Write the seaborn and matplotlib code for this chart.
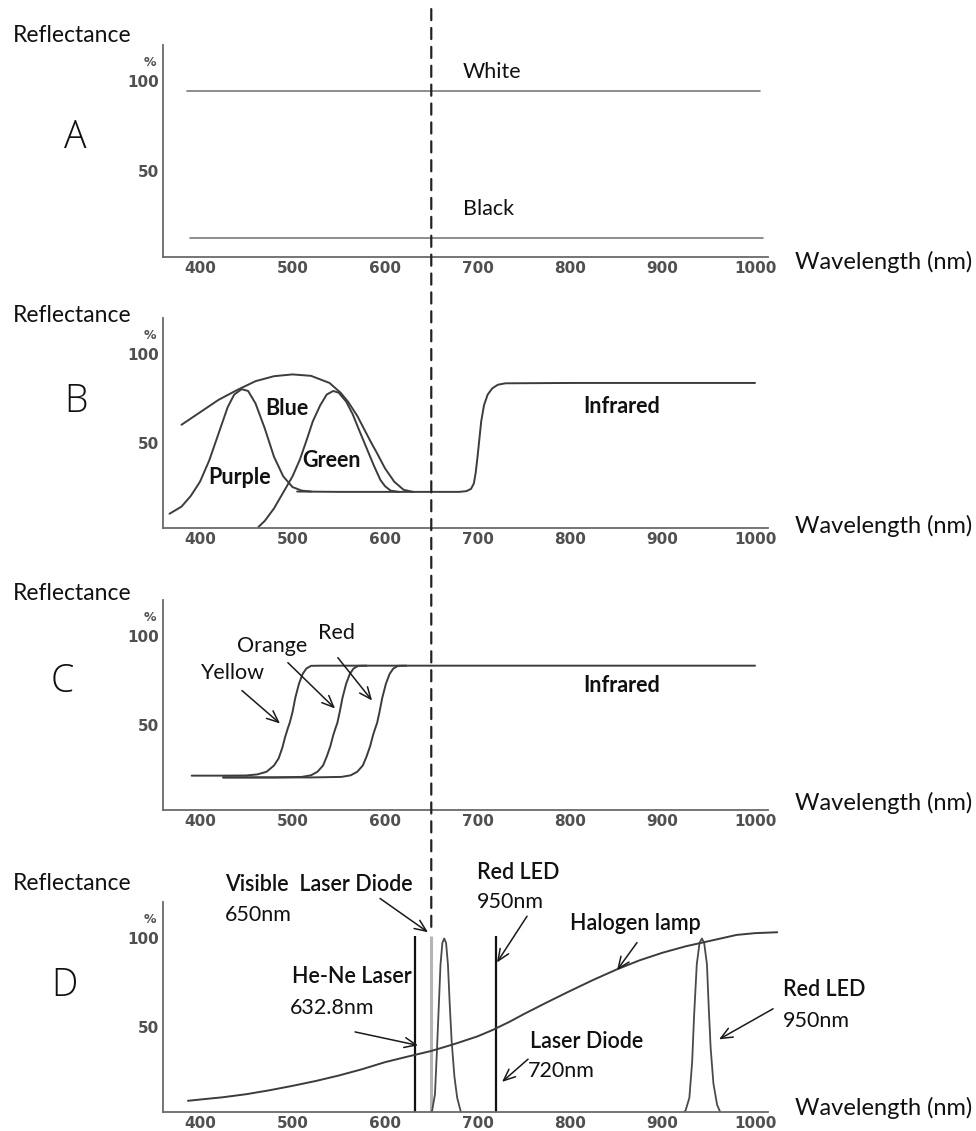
import numpy as np
import pandas as pd
import seaborn as sns
import matplotlib
matplotlib.use("Agg")
import matplotlib.pyplot as plt
from matplotlib.patches import ConnectionPatch

# ---------------- data ----------------
x_ticks = [400, 500, 600, 700, 800, 900, 1000]
y_ticks = [50, 100]

# A: flat white / black reflectance
wl_white = [386, 1005]
r_white = [94.4, 94.4]
wl_black = [389, 1009]
r_black = [12.4, 12.4]

# B: purple, blue, green pigments and common infrared tail
wl_purple = [367, 380, 390, 400, 410, 420, 430, 437, 445, 452, 460, 470, 480, 490, 500, 510, 520]
r_purple = [10, 14, 20, 28, 40, 55, 70, 77, 80, 79, 72, 58, 42, 31, 25, 23, 22.5]

wl_blue = [380, 400, 420, 440, 460, 480, 500, 520, 540, 552, 560, 570, 580, 585, 591, 600, 610, 620, 630]
r_blue = [60, 67, 74, 79.5, 84.5, 87.3, 88.3, 87.5, 83.5, 78, 73, 65, 55, 50, 44.4, 35.5, 28, 23.5, 22.3]

wl_green = [463, 470, 480, 490, 500, 508, 515, 522, 530, 537, 544, 550, 558, 565, 572, 580, 588, 595, 600, 606, 615]
r_green = [2.5, 6, 13, 22, 31, 40.5, 51, 62, 71, 77, 79, 78, 73, 66, 57, 47, 37, 29, 25.5, 23, 22.3]

wl_ir_b = [505, 550, 600, 650, 680, 688, 693, 696, 698, 700, 702, 704, 707, 711, 716, 722, 730, 800, 1000]
r_ir_b = [22.5, 22.3, 22.3, 22.3, 22.3, 22.7, 24, 27, 33, 42, 52, 62, 71, 77, 80.5, 82.5, 83.3, 83.5, 83.5]

# C: yellow / orange / red edges
wl_yellow = [391, 420, 450, 462, 472, 480, 485, 489, 492, 495, 497, 500, 503, 507, 511, 515, 520, 530, 1000]
r_yellow = [21.3, 21.3, 21.4, 22, 23.5, 27, 31, 37, 43, 48, 51, 57, 65, 73, 78.5, 81.5, 83, 83.1, 83.1]

wl_orange = [425, 480, 510, 520, 527, 533, 537, 541, 544, 546.5, 548.5, 551, 554, 558, 562, 566, 571, 580]
r_orange = [20.3, 20.3, 20.6, 21.5, 23.5, 27, 32, 38, 44, 48, 51, 57, 65, 73, 78.5, 81.5, 83, 83.1]

wl_red = [425, 520, 553, 563, 570, 576, 580, 584, 587, 589.5, 591.5, 594, 597, 601, 605, 609, 614, 623]
r_red = [20.3, 20.3, 20.6, 21.5, 23.5, 27, 32, 38, 44, 48, 51, 57, 65, 73, 78.5, 81.5, 83, 83.1]

# D: light sources
wl_halogen = [387, 400, 425, 450, 475, 500, 525, 550, 575, 600, 625, 650, 675, 700, 716, 735, 750,
              775, 800, 825, 850, 875, 900, 925, 950, 980, 1000, 1024]
r_halogen = [8.3, 9, 10.3, 12, 14.2, 16.7, 19.4, 22.5, 26, 30, 33.2, 36.3, 40.2, 44.5, 48, 52.8, 57,
             63.6, 70, 76.2, 82, 87.2, 91.5, 95.1, 98, 101.5, 102.5, 103]

wl_led_a = [648, 651, 654, 656, 658, 660, 662, 664, 666, 668, 670, 672, 675, 678, 682, 685]
r_led_a = [0, 3, 12, 35, 60, 85, 97, 99.5, 97, 85, 62, 42, 22, 10, 2, 0]

wl_led_b = [920, 925, 929, 932, 934, 937, 940, 942.5, 945, 948, 950, 952, 955, 959, 964]
r_led_b = [0, 3, 10, 30, 55, 85, 97, 99.5, 97, 85, 60, 38, 18, 6, 0]

laser_lines = [632.8, 720]
laser_top = 101
visible_ld = 650

# ---------------- style ----------------
sns.set_theme(style="white")
plt.rcParams["font.family"] = ["Lato", "DejaVu Sans"]

W, H = 976, 1131
fig = plt.figure(figsize=(W / 100, H / 100), dpi=100)

AX_LEFT, AX_RIGHT = 163, 768
SPINE = "#6a6a6a"
LINE = "#3c3c3c"
TICK_FONT = ["Liberation Sans Narrow", "DejaVu Sans"]
FS = 15.5


def fx(px):
    return px / W


def fy(py):
    return 1 - py / H


def make_axes(top, bottom):
    ax = fig.add_axes([fx(AX_LEFT), fy(bottom), (AX_RIGHT - AX_LEFT) / W, (bottom - top) / H])
    return ax


def style_axes(ax):
    ax.set_xlim(360, 1014)
    ax.set_ylim(2, 120)
    ax.set_xticks(x_ticks)
    ax.set_yticks(y_ticks)
    ax.set_xlabel("")
    ax.set_ylabel("")
    for s in ("top", "right"):
        ax.spines[s].set_visible(False)
    for s in ("left", "bottom"):
        ax.spines[s].set_color(SPINE)
        ax.spines[s].set_linewidth(1.3)
    ax.tick_params(direction="in", length=4, width=1, color=SPINE,
                   labelcolor="#505050", labelsize=11, pad=3)
    for lab in ax.get_xticklabels() + ax.get_yticklabels():
        lab.set_family(TICK_FONT)
        lab.set_fontweight("bold")
    ax.annotate("%", xy=(0, 100), xycoords=("axes fraction", "data"),
                xytext=(-9.5, 13), textcoords="offset points",
                ha="center", va="center", fontsize=9, color="#505050",
                family=TICK_FONT, fontweight="bold")
    ax.set_facecolor("none")


def draw(ax, wl, r, color=LINE, lw=1.4, **kw):
    df = pd.DataFrame({"wavelength": wl, "reflectance": r})
    sns.lineplot(data=df, x="wavelength", y="reflectance", ax=ax, color=color,
                 lw=lw, sort=False, estimator=None, **kw)
    return ax.lines[-1]


def arrow(ax, start, end):
    ax.annotate("", xy=end, xytext=start,
                arrowprops=dict(arrowstyle="->,head_length=0.7,head_width=0.3",
                                color="#1a1a1a", lw=1.1, shrinkA=0, shrinkB=0))


panel_boxes = {"A": (45, 257), "B": (318, 528), "C": (600, 810), "D": (902, 1112)}
letter_pos = {"A": (75, 138), "B": (76, 402), "C": (62, 682), "D": (64, 986)}
refl_y = {"A": 36, "B": 315, "C": 593, "D": 884}
wave_y = {"A": 262, "B": 526, "C": 803, "D": 1108}

axes = {}
for key, (top, bottom) in panel_boxes.items():
    ax = make_axes(top, bottom)
    axes[key] = ax
    fig.text(fx(13), fy(refl_y[key]), "Reflectance", ha="left", va="center",
             fontsize=16.5, color="#111")
    fig.text(fx(795), fy(wave_y[key]), "Wavelength (nm)", ha="left", va="center",
             fontsize=17, color="#111")
    lx, ly = letter_pos[key]
    fig.text(fx(lx), fy(ly), key, ha="center", va="center", fontsize=27,
             color="#111", family=["Open Sans", "DejaVu Sans"], fontweight="light")

TXT = dict(ha="left", va="center", color="#111")

# ---- A ----
ax = axes["A"]
draw(ax, wl_white, r_white, color="#7a7a7a", lw=1.2)
draw(ax, wl_black, r_black, color="#7a7a7a", lw=1.2)
ax.text(684, 105, "White", fontsize=FS, **TXT)
ax.text(684, 28.7, "Black", fontsize=FS, **TXT)
style_axes(ax)

# ---- B ----
ax = axes["B"]
draw(ax, wl_ir_b, r_ir_b)
draw(ax, wl_purple, r_purple)
draw(ax, wl_blue, r_blue)
draw(ax, wl_green, r_green)
ax.text(470, 69.4, "Blue", fontsize=FS, fontweight="bold", **TXT)
ax.text(409, 30.5, "Purple", fontsize=FS, fontweight="bold", **TXT)
ax.text(510, 40, "Green", fontsize=FS, fontweight="bold", **TXT)
ax.text(814, 70, "Infrared", fontsize=FS, fontweight="bold", **TXT)
style_axes(ax)

# ---- C ----
ax = axes["C"]
draw(ax, wl_yellow, r_yellow)
draw(ax, wl_orange, r_orange)
draw(ax, wl_red, r_red)
ax.text(400, 79, "Yellow", fontsize=FS, **TXT)
ax.text(440, 94, "Orange", fontsize=FS, **TXT)
ax.text(527.5, 101.7, "Red", fontsize=FS, **TXT)
ax.text(814, 72, "Infrared", fontsize=FS, fontweight="bold", **TXT)
arrow(ax, (445.4, 69.1), (486.5, 50.6))
arrow(ax, (495, 84.8), (546, 59))
arrow(ax, (549, 87.6), (586, 63.5))
style_axes(ax)

# ---- D ----
ax = axes["D"]
ax.vlines([visible_ld], 0, laser_top, color="#b4b4b4", lw=2.2)
draw(ax, wl_led_a, r_led_a, color="#4a4a4a", lw=1.3)
draw(ax, wl_led_b, r_led_b, color="#4a4a4a", lw=1.3)
ax.vlines(laser_lines, 0, laser_top, color="#111", lw=1.6)
line = draw(ax, wl_halogen, r_halogen, color=LINE, lw=1.4)
line.set_clip_on(False)
ax.text(427, 130, "Visible  Laser Diode", fontsize=FS, fontweight="semibold", **TXT)
ax.text(427, 112.8, "650nm", fontsize=FS, **TXT)
ax.text(499.5, 78, "He-Ne Laser", fontsize=FS, fontweight="semibold", **TXT)
ax.text(497, 60.5, "632.8nm", fontsize=FS, **TXT)
ax.text(699.5, 136.7, "Red LED", fontsize=FS, fontweight="semibold", **TXT)
ax.text(699.5, 120, "950nm", fontsize=FS, **TXT)
ax.text(800, 107.8, "Halogen lamp", fontsize=FS, fontweight="semibold", **TXT)
ax.text(756.8, 41.7, "Laser Diode", fontsize=FS, fontweight="semibold", **TXT)
ax.text(754.6, 25, "720nm", fontsize=FS, **TXT)
ax.text(1030, 70.6, "Red LED", fontsize=FS, fontweight="semibold", **TXT)
ax.text(1030, 53.3, "950nm", fontsize=FS, **TXT)
arrow(ax, (594.6, 122), (646.5, 103))
arrow(ax, (567.6, 47), (635.7, 39.4))
arrow(ax, (753.5, 112), (721, 86))
arrow(ax, (872.4, 97.2), (850.8, 81.7))
arrow(ax, (754.6, 31.7), (726.5, 18.9))
arrow(ax, (1019.5, 60), (961, 42.8))
style_axes(ax)

# 650 nm reference line running through all panels
con = ConnectionPatch(xyA=(visible_ld, 140), coordsA=axes["A"].transData,
                      xyB=(visible_ld, laser_top + 1), coordsB=axes["D"].transData,
                      color="#222", lw=1.6, linestyle=(0, (5, 3.5)))
fig.add_artist(con)

fig.savefig("out.png", dpi=100, facecolor="white")
